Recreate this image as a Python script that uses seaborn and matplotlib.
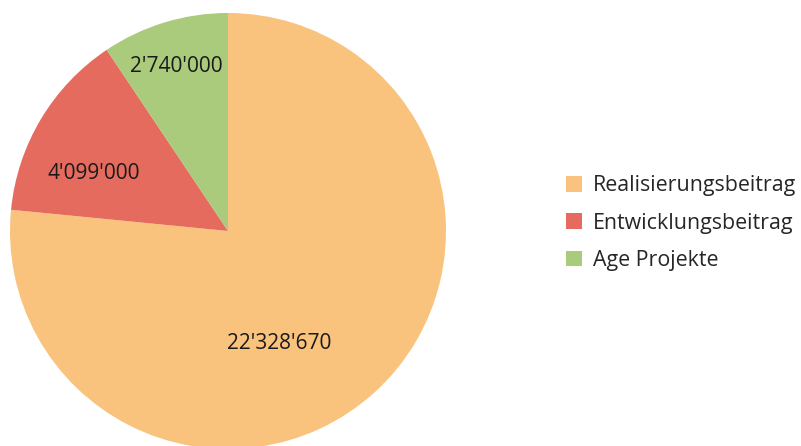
import matplotlib
matplotlib.use("Agg")
import matplotlib.pyplot as plt
import seaborn as sns
import numpy as np

# Data
categories = ["Realisierungsbeitrag", "Entwicklungsbeitrag", "Age Projekte"]
values = [22328670, 4099000, 2740000]
colors = ["#F9C37E", "#E56B5E", "#A9CB7B"]
# label placement (radius fraction, angle in degrees)
label_pos = [(0.565, -65.5), (0.67, 157.0), (0.79, 107.6)]

sns.set_theme(style="white")
plt.rcParams["font.family"] = ["Open Sans", "DejaVu Sans"]

fig = plt.figure(figsize=(8.01, 4.46), dpi=100)
ax = fig.add_axes([10 / 801, -3 / 446, 436 / 801, 436 / 446])

wedges, _ = ax.pie(values, colors=colors, startangle=90, counterclock=False,
                   wedgeprops=dict(linewidth=0), radius=1)
for w in wedges:
    w.set_clip_on(False)
ax.set_xlim(-1, 1)
ax.set_ylim(-1, 1)
ax.set_aspect("equal")
ax.axis("off")

for v, (r, a) in zip(values, label_pos):
    ax.text(r * np.cos(np.radians(a)), r * np.sin(np.radians(a)),
            f"{v:,}".replace(",", "'"), ha="center", va="center",
            fontsize=15.0, color="#1a1a1a")

fig.legend(wedges, categories, loc="center left", bbox_to_anchor=(566 / 801, 223 / 446),
           frameon=False, fontsize=15.4, handlelength=0.74, handleheight=0.74,
           handletextpad=0.5, labelspacing=0.76, borderaxespad=0, borderpad=0)

fig.savefig("out.png", dpi=100)
